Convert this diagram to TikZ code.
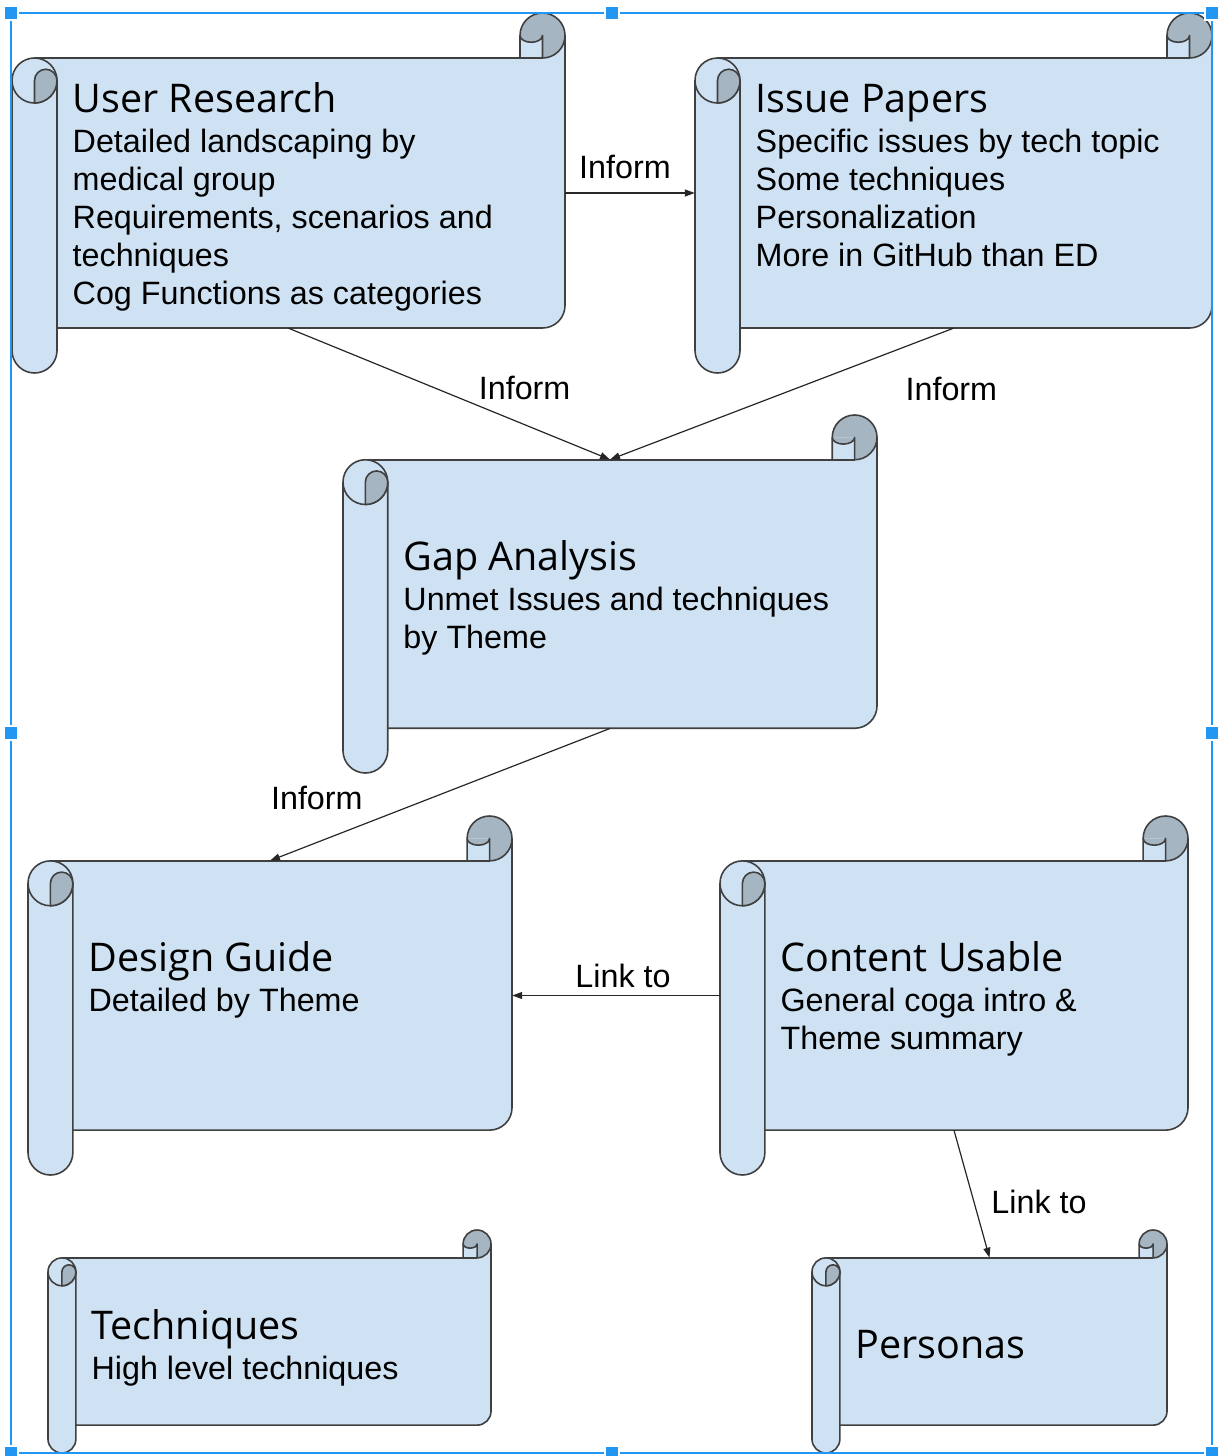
\documentclass[tikz,border=0pt]{standalone}
\usepackage{fontspec}
\setmainfont{Liberation Sans}
\newfontfamily\ttlfont{Open Sans}
\usetikzlibrary{arrows.meta}
\definecolor{cSheet}{HTML}{CFE2F3}
\definecolor{cCurl}{HTML}{A6B5C2}
\definecolor{cRim}{HTML}{404040}
\definecolor{cSel}{HTML}{2196F3}
\newcommand{\ttlf}{\ttlfont\fontsize{39.5}{44}\selectfont\rule{0pt}{31pt}}
\newcommand{\ttl}[1]{{\ttlf #1}\\[2pt]}
\newcommand{\scrl}[7]{\pgfmathsetmacro{\crc}{0.125*min(#4-#2,#5-#3)}%
  \pgfmathsetmacro{\crh}{\crc/2}\pgfmathsetmacro{\crq}{\crc/4}%
  \pgfmathsetmacro{\crw}{#4-#2}\pgfmathsetmacro{\crv}{#5-#3-2*\crc}%
  \fill[sheet] (#2+\crh,#3+\crc) -- (#4-\crh,#3+\crc) -- (#4-\crh,#3+\crh) -- (#4,#3+\crh)
    -- (#4,#5-\crc-\crh) arc[start angle=0, end angle=90, radius=\crh] -- (#2+\crh,#5-\crc) -- cycle;
  \fill[curl] (#4-\crh,#3+\crh) circle[radius=\crh];
  \fill[sheet] (#4-\crc,#3+\crh) rectangle (#4-\crh,#3+\crc);
  \fill[curl] (#4-\crc,#3+\crh) arc[start angle=180, end angle=0, x radius=\crq, y radius=0.6*\crq] -- cycle;
  \draw[rim] (#4-\crc,#3+\crc) -- (#4-\crc,#3+\crh) arc[start angle=180, end angle=450, radius=\crh];
  \draw[rim] (#4-\crh,#3+\crc) -- (#4-\crh,#3+\crh) arc[start angle=0, end angle=180, x radius=\crq, y radius=0.6*\crq];
  \draw[rim] (#2+\crh,#3+\crc) -- (#4-\crh,#3+\crc);
  \draw[rim] (#4,#3+\crh) -- (#4,#5-\crc-\crh) arc[start angle=0, end angle=90, radius=\crh] -- (#2+\crc,#5-\crc);
  \filldraw[sheet, rim] (#2,#3+\crc+\crh) -- (#2,#5-\crh) arc[start angle=180, end angle=0, radius=\crh]
    -- (#2+\crc,#3+\crc+\crh) arc[start angle=0, end angle=-180, radius=\crh] -- cycle;
  \draw[rim] (#2,#3+\crc+\crh) arc[start angle=180, end angle=0, radius=\crh];
  \filldraw[curl, rim] (#2+\crh,#3+2*\crc) -- (#2+\crh,#3+\crc+\crh) arc[start angle=180, end angle=360, radius=\crq]
    arc[start angle=0, end angle=90, radius=\crh] -- cycle;
  \node[inner sep=0pt, minimum width=\crw pt, minimum height=\crv pt] (#1) at ({(#2+#4)/2},{(#3+#5)/2}) {};
  \node[txt] (#1-t) at (#2+\crc+15.5,#6-31) {#7};}

\begin{document}
\begin{tikzpicture}[x=1pt, y=-1pt,
  sheet/.style={fill=cSheet},
  curl/.style={fill=cCurl},
  rim/.style={draw=cRim, line width=1.6pt, line join=round},
  txt/.style={anchor=north west, align=left, inner sep=0pt, font=\fontsize{32.3}{38}\selectfont},
  lbl/.style={inner sep=2pt, font=\fontsize{32.3}{38}\selectfont},
  link/.style={draw=black!85, line width=1.2pt, -{Triangle[length=10pt,width=7pt]}},
  sel/.style={draw=cSel, line width=2pt}]
\useasboundingbox (0,0) rectangle (1219,1456);
% ---- the scrolls: name, left, top, right, bottom, title baseline, text ----
\scrl{usr}{12}{13}{565}{373}{112}{\ttl{User Research}Detailed landscaping by\\ medical group\\ Requirements, scenarios and\\ techniques\\ Cog Functions as categories}
\scrl{iss}{695}{13}{1212}{373}{112}{\ttl{Issue Papers}Specific issues by tech topic\\ Some techniques\\ Personalization\\ More in GitHub than ED}
\scrl{gap}{343}{415}{877}{773}{570}{\ttl{Gap Analysis}Unmet Issues and techniques\\ by Theme}
\scrl{dsg}{28}{816}{512}{1175}{971}{\ttl{Design Guide}Detailed by Theme}
\scrl{cnt}{720}{816}{1188}{1175}{971}{\ttl{Content Usable}General coga intro \&\\ Theme summary}
\scrl{tch}{48}{1230}{491}{1453}{1339}{\ttl{Techniques}High level techniques}
\scrl{per}{812}{1230}{1167}{1453}{1358}{{\ttlf Personas}}
% ---- connectors ----
\draw[link] (usr.east) -- node[lbl, above=12pt, xshift=-5pt] (l-inf1) {Inform} (iss.west);
\draw[link] (usr.south) -- node[lbl, pos=0.584, anchor=south west, yshift=2pt] (l-inf2) {Inform} (gap.north);
\draw[link] (iss.south) -- node[lbl, pos=0.147, anchor=north west, yshift=-27pt] (l-inf3) {Inform} (gap.north);
\draw[link] (gap.south) -- node[lbl, pos=0.72, anchor=south east, yshift=11pt] (l-inf4) {Inform} (dsg.north);
\draw[link] (cnt.west) -- node[lbl, above=5pt, xshift=7pt] (l-lnk1) {Link to} (dsg.east);
\draw[link] (cnt.south) -- node[lbl, pos=0.56, anchor=west, xshift=15pt] (l-lnk2) {Link to} (per.north);
% ---- selection frame ----
\draw[sel] (11,13) rectangle (1212,1453);
\foreach \hx/\hy in {11/13,612/13,1212/13,11/733,1212/733,11/1453,612/1453,1212/1453}
  \filldraw[fill=cSel, draw=white, line width=1.5pt] (\hx-7,\hy-7) rectangle (\hx+7,\hy+7);
\end{tikzpicture}
\end{document}
